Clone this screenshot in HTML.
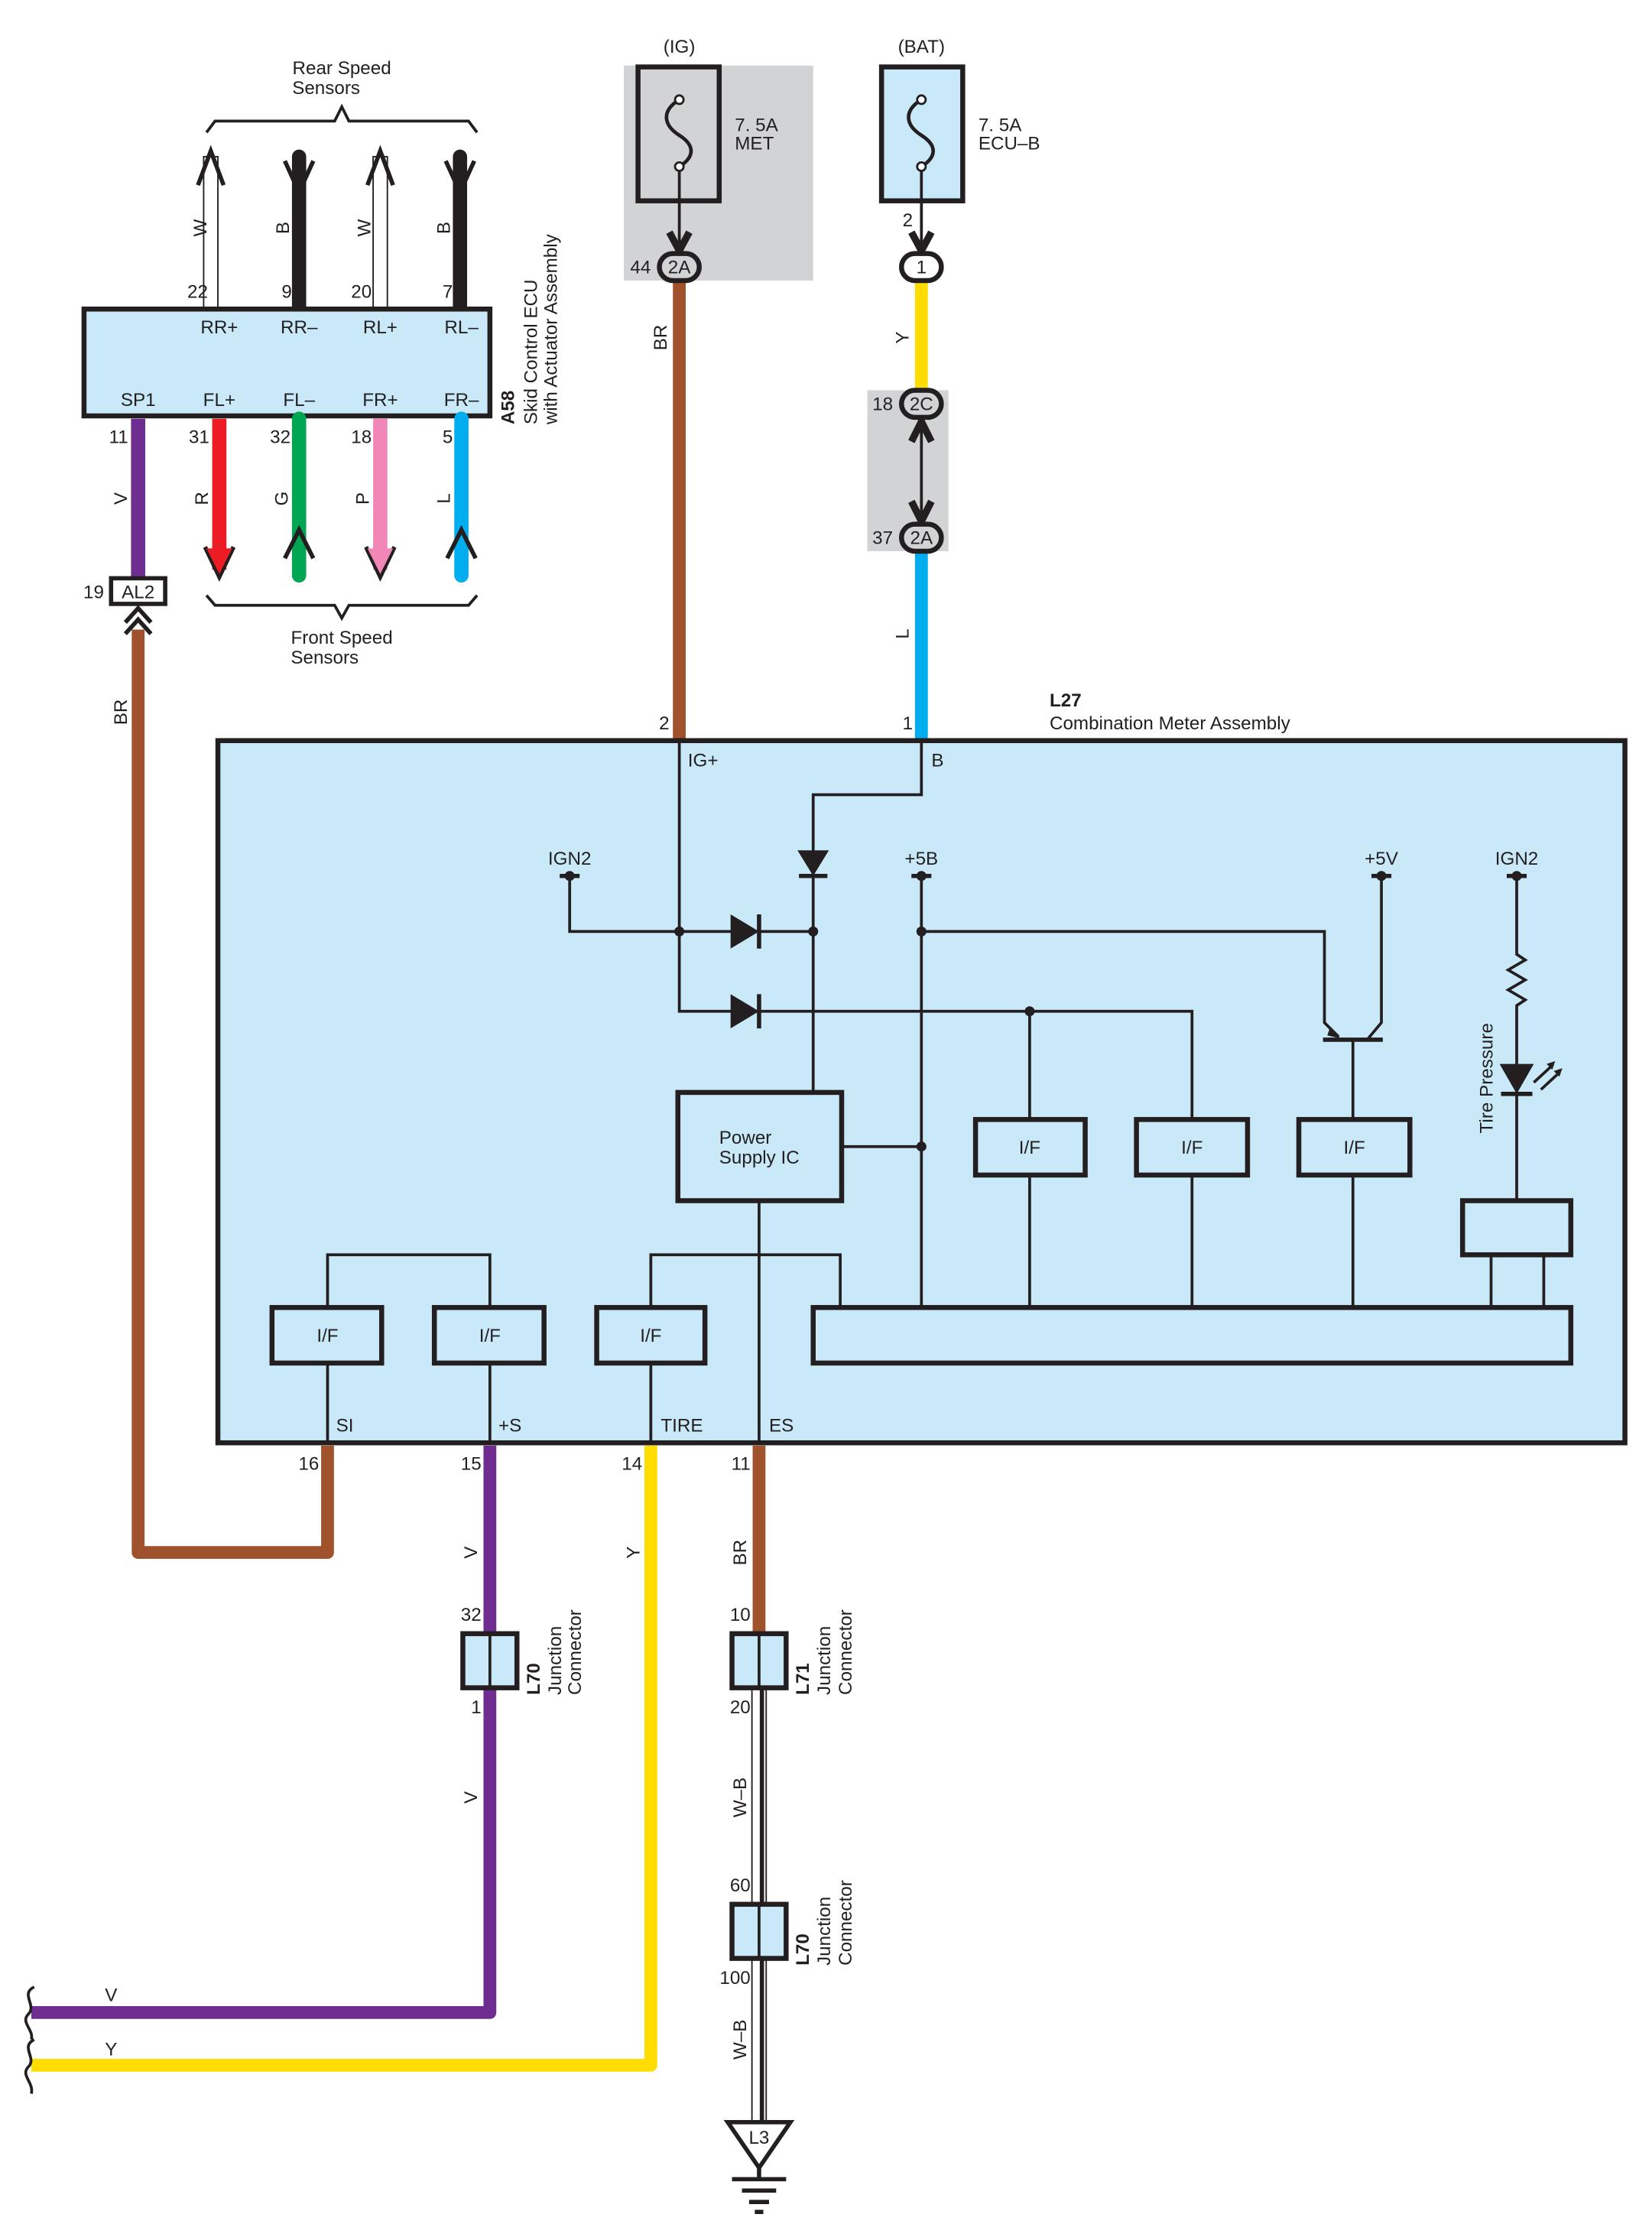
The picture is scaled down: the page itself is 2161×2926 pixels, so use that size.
<!DOCTYPE html>
<html><head><meta charset="utf-8"><style>
html,body{margin:0;padding:0;background:#fff;}
svg{display:block;}
text{font-family:"Liberation Sans",sans-serif;font-size:13px;fill:#231f20;}
.b{font-weight:bold;}
.m{text-anchor:middle;}
.e{text-anchor:end;}
</style></head><body>
<svg width="2161" height="2926" viewBox="0 0 1160 1570.6" preserveAspectRatio="none" xmlns="http://www.w3.org/2000/svg">
<rect x="0" y="0" width="1160" height="1571" fill="#fff"/>

<!-- Rear speed sensors -->
<text x="240" y="52" class="m">Rear Speed</text>
<text x="229" y="66" class="m">Sensors</text>
<path d="M145,93 L151,85 L235,85 L240,75 L245,85 L329,85 L335,93" fill="none" stroke="#231f20" stroke-width="2"/>
<g stroke="#231f20" stroke-width="1">
<rect x="143" y="110" width="10" height="107" fill="#fff"/>
<rect x="262" y="110" width="10" height="107" fill="#fff"/>
</g>
<path d="M139,130 L148,106 L157,130 M258,130 L267,106 L276,130" fill="none" stroke="#231f20" stroke-width="3"/>
<g stroke="#231f20" stroke-width="10" stroke-linecap="round"><line x1="210" y1="110" x2="210" y2="217"/><line x1="323" y1="110" x2="323" y2="217"/></g>
<path d="M200,113 L210,135 L220,113 M313,113 L323,135 L333,113" fill="none" stroke="#231f20" stroke-width="3"/>
<text x="146" y="209" class="e">22</text><text x="205" y="209" class="e">9</text><text x="261" y="209" class="e">20</text><text x="318" y="209" class="e">7</text>
<text transform="translate(145,160) rotate(-90)" class="m">W</text>
<text transform="translate(203,160) rotate(-90)" class="m">B</text>
<text transform="translate(260,160) rotate(-90)" class="m">W</text>
<text transform="translate(316,160) rotate(-90)" class="m">B</text>

<!-- ECU -->
<rect x="59" y="217" width="285" height="75" fill="#c9e9f9" stroke="#231f20" stroke-width="3.5"/>
<text x="154" y="234" class="m">RR+</text><text x="210" y="234" class="m">RR–</text><text x="267" y="234" class="m">RL+</text><text x="324" y="234" class="m">RL–</text>
<text x="97" y="285" class="m">SP1</text><text x="154" y="285" class="m">FL+</text><text x="210" y="285" class="m">FL–</text><text x="267" y="285" class="m">FR+</text><text x="324" y="285" class="m">FR–</text>
<text transform="translate(361,298) rotate(-90)" class="b">A58</text>
<text transform="translate(377,298) rotate(-90)">Skid Control ECU</text>
<text transform="translate(391,298) rotate(-90)">with Actuator Assembly</text>

<g stroke-width="10" stroke-linecap="round">
<line x1="97" y1="294" x2="97" y2="405" stroke="#6f2c91" stroke-linecap="butt"/>
<line x1="154" y1="294" x2="154" y2="400" stroke="#ed1c24" stroke-linecap="butt"/>
<line x1="210" y1="294" x2="210" y2="404" stroke="#00a651"/>
<line x1="267" y1="294" x2="267" y2="400" stroke="#f087b6" stroke-linecap="butt"/>
<line x1="324" y1="294" x2="324" y2="404" stroke="#00aeef"/>
</g>
<path d="M144,384 L154,405 L164,384 M257,384 L267,405 L277,384" fill="none" stroke="#231f20" stroke-width="3"/>
<path d="M200,392 L210,372 L220,392 M314,392 L324,372 L334,392" fill="none" stroke="#231f20" stroke-width="3"/>
<polygon points="145,385 154,403 163,385" fill="#ed1c24"/>
<polygon points="258,385 267,403 276,385" fill="#f087b6"/>
<text x="90" y="311" class="e">11</text><text x="147" y="311" class="e">31</text><text x="204" y="311" class="e">32</text><text x="261" y="311" class="e">18</text><text x="318" y="311" class="e">5</text>
<text transform="translate(89,350) rotate(-90)" class="m">V</text>
<text transform="translate(146,350) rotate(-90)" class="m">R</text>
<text transform="translate(202,350) rotate(-90)" class="m">G</text>
<text transform="translate(259,350) rotate(-90)" class="m">P</text>
<text transform="translate(316,350) rotate(-90)" class="m">L</text>
<path d="M145,418 L151,425 L235,425 L240,434 L245,425 L329,425 L335,418" fill="none" stroke="#231f20" stroke-width="2"/>
<text x="240" y="452" class="m">Front Speed</text>
<text x="228" y="466" class="m">Sensors</text>

<rect x="78" y="406" width="38" height="18" fill="#fff" stroke="#231f20" stroke-width="3"/>
<text x="97" y="420" class="m">AL2</text>
<text x="73" y="420" class="e">19</text>
<path d="M97,442 L97,1090 L230,1090 L230,1015" fill="none" stroke="#a0522d" stroke-width="9" stroke-linejoin="round"/>
<path d="M88,437 L97,427 L106,437 M88,445 L97,435 L106,445" fill="none" stroke="#231f20" stroke-width="3"/>
<text transform="translate(89,500) rotate(-90)" class="m">BR</text>

<!-- IG -->
<text x="477" y="37" class="m">(IG)</text>
<rect x="438" y="46" width="133" height="151" fill="#d1d3d4"/>
<rect x="448" y="47" width="57" height="94" fill="#d1d3d4" stroke="#231f20" stroke-width="3.5"/>
<path d="M477,70 C464,78 466,88 477,95 C488,102 488,110 477,117" fill="none" stroke="#231f20" stroke-width="2.5"/>
<circle cx="477" cy="70" r="3" fill="#fff" stroke="#231f20" stroke-width="1.5"/>
<circle cx="477" cy="117" r="3" fill="#fff" stroke="#231f20" stroke-width="1.5"/>
<line x1="477" y1="120" x2="477" y2="172" stroke="#231f20" stroke-width="2"/>
<path d="M470,163 L477,176 L484,163" fill="none" stroke="#231f20" stroke-width="5"/>
<text x="516" y="92">7. 5A</text><text x="516" y="105">MET</text>
<line x1="477" y1="196" x2="477" y2="520" stroke="#a0522d" stroke-width="9"/>
<rect x="463" y="178" width="28" height="19" rx="9.5" fill="#d1d3d4" stroke="#231f20" stroke-width="3.5"/>
<text x="477" y="192" class="m">2A</text>
<text x="457" y="192" class="e">44</text>
<text transform="translate(468,237) rotate(-90)" class="m">BR</text>

<!-- BAT -->
<text x="647" y="37" class="m">(BAT)</text>
<rect x="619" y="47" width="57" height="94" fill="#c9e9f9" stroke="#231f20" stroke-width="3.5"/>
<path d="M647,70 C634,78 636,88 647,95 C658,102 658,110 647,117" fill="none" stroke="#231f20" stroke-width="2.5"/>
<circle cx="647" cy="70" r="3" fill="#fff" stroke="#231f20" stroke-width="1.5"/>
<circle cx="647" cy="117" r="3" fill="#fff" stroke="#231f20" stroke-width="1.5"/>
<line x1="647" y1="120" x2="647" y2="172" stroke="#231f20" stroke-width="2"/>
<path d="M640,163 L647,176 L654,163" fill="none" stroke="#231f20" stroke-width="5"/>
<text x="687" y="92">7. 5A</text><text x="687" y="105">ECU–B</text>
<text x="641" y="159" class="e">2</text>
<line x1="647" y1="196" x2="647" y2="275" stroke="#ffdd00" stroke-width="9"/>
<rect x="633" y="178" width="28" height="19" rx="9.5" fill="#fff" stroke="#231f20" stroke-width="3.5"/>
<text x="647" y="192" class="m">1</text>
<text transform="translate(638,237) rotate(-90)" class="m">Y</text>
<rect x="609" y="274" width="57" height="113" fill="#d1d3d4"/>
<line x1="647" y1="292" x2="647" y2="368" stroke="#231f20" stroke-width="2"/>
<path d="M640,310 L647,296 L654,310" fill="none" stroke="#231f20" stroke-width="5"/>
<path d="M640,352 L647,366 L654,352" fill="none" stroke="#231f20" stroke-width="5"/>
<rect x="633" y="274" width="28" height="19" rx="9.5" fill="#d1d3d4" stroke="#231f20" stroke-width="3.5"/>
<text x="647" y="288" class="m">2C</text><text x="627" y="288" class="e">18</text>
<line x1="647" y1="386" x2="647" y2="520" stroke="#00aeef" stroke-width="9"/>
<rect x="633" y="368" width="28" height="19" rx="9.5" fill="#d1d3d4" stroke="#231f20" stroke-width="3.5"/>
<text x="647" y="382" class="m">2A</text><text x="627" y="382" class="e">37</text>
<text transform="translate(638,445) rotate(-90)" class="m">L</text>
<text x="470" y="512" class="e">2</text><text x="641" y="512" class="e">1</text>
<text x="737" y="496" class="b">L27</text>
<text x="737" y="512">Combination Meter Assembly</text>

<!-- Main box -->
<rect x="153" y="520" width="988" height="493" fill="#c9e9f9" stroke="#231f20" stroke-width="3.5"/>
<text x="483" y="538">IG+</text><text x="654" y="538">B</text>
<g fill="none" stroke="#231f20" stroke-width="2">
<path d="M477,521 L477,710 L837,710 L837,786"/>
<path d="M647,521 L647,558 L571,558 L571,767"/>
<path d="M400,615 L400,654 L571,654"/>
<path d="M647,615 L647,918"/>
<path d="M647,654 L930,654 L930,718 L940,728"/>
<path d="M970,615 L970,718 L960,730"/>
<path d="M950,730 L950,786"/>
<line x1="723" y1="710" x2="723" y2="786"/>
<path d="M1065,615 L1065,670 L1071,674 L1059,681 L1071,688 L1059,695 L1071,702 L1065,706 L1065,843"/>
<path d="M591,805 L647,805"/>
<path d="M533,843 L533,1013"/>
<line x1="723" y1="825" x2="723" y2="918"/><line x1="837" y1="825" x2="837" y2="918"/><line x1="950" y1="825" x2="950" y2="918"/>
<line x1="1047" y1="881" x2="1047" y2="918"/><line x1="1084" y1="881" x2="1084" y2="918"/>
<path d="M230,918 L230,881 L344,881 L344,918"/>
<path d="M457,918 L457,881 L590,881 L590,918"/>
<line x1="230" y1="957" x2="230" y2="1013"/><line x1="344" y1="957" x2="344" y2="1013"/><line x1="457" y1="957" x2="457" y2="1013"/>
</g>
<g stroke="#231f20" stroke-width="3">
<line x1="393" y1="615" x2="407" y2="615"/><line x1="640" y1="615" x2="654" y2="615"/><line x1="963" y1="615" x2="977" y2="615"/><line x1="1058" y1="615" x2="1072" y2="615"/>
<line x1="561" y1="615" x2="581" y2="615"/>
<line x1="533" y1="642" x2="533" y2="666"/><line x1="533" y1="698" x2="533" y2="722"/>
<line x1="929" y1="730" x2="971" y2="730"/>
<line x1="1054" y1="768" x2="1076" y2="768"/>
</g>
<polygon points="560,597 582,597 571,615" fill="#231f20"/>
<polygon points="513,642 513,666 533,654" fill="#231f20"/>
<polygon points="513,698 513,722 533,710" fill="#231f20"/>
<polygon points="1053,747 1077,747 1065,768" fill="#231f20"/>
<polygon points="934,721 941,729 932,727" fill="#231f20"/>
<path d="M1077,760 L1090,748 M1082,765 L1095,753" stroke="#231f20" stroke-width="2"/>
<polygon points="1092,745 1086,747 1090,751" fill="#231f20"/><polygon points="1097,750 1091,752 1095,756" fill="#231f20"/>
<g fill="#231f20"><circle cx="400" cy="615" r="3.5"/><circle cx="647" cy="615" r="3.5"/><circle cx="970" cy="615" r="3.5"/><circle cx="1065" cy="615" r="3.5"/>
<circle cx="477" cy="654" r="3.5"/><circle cx="571" cy="654" r="3.5"/><circle cx="647" cy="654" r="3.5"/><circle cx="723" cy="710" r="3.5"/><circle cx="647" cy="805" r="3.5"/></g>
<text x="400" y="607" class="m">IGN2</text><text x="647" y="607" class="m">+5B</text><text x="970" y="607" class="m">+5V</text><text x="1065" y="607" class="m">IGN2</text>
<text transform="translate(1048,757) rotate(-90)" class="m">Tire Pressure</text>
<g fill="none" stroke="#231f20" stroke-width="3.5">
<rect x="476" y="767" width="115" height="76"/>
<rect x="685" y="786" width="77" height="39"/><rect x="798" y="786" width="78" height="39"/><rect x="912" y="786" width="78" height="39"/>
<rect x="1027" y="843" width="76" height="38"/>
<rect x="571" y="918" width="532" height="39"/>
<rect x="191" y="918" width="77" height="39"/><rect x="305" y="918" width="77" height="39"/><rect x="419" y="918" width="76" height="39"/>
</g>
<text x="505" y="803">Power</text><text x="505" y="817">Supply IC</text>
<text x="723" y="810" class="m">I/F</text><text x="837" y="810" class="m">I/F</text><text x="951" y="810" class="m">I/F</text>
<text x="230" y="942" class="m">I/F</text><text x="344" y="942" class="m">I/F</text><text x="457" y="942" class="m">I/F</text>
<text x="236" y="1005">SI</text><text x="350" y="1005">+S</text><text x="464" y="1005">TIRE</text><text x="540" y="1005">ES</text>

<text x="224" y="1032" class="e">16</text><text x="338" y="1032" class="e">15</text><text x="451" y="1032" class="e">14</text><text x="527" y="1032" class="e">11</text>
<path d="M344,1015 L344,1413 L22,1413" fill="none" stroke="#6f2c91" stroke-width="9" stroke-linejoin="round"/>
<path d="M457,1015 L457,1450 L22,1450" fill="none" stroke="#ffdd00" stroke-width="9" stroke-linejoin="round"/>
<line x1="533" y1="1015" x2="533" y2="1148" stroke="#a0522d" stroke-width="9"/>
<text transform="translate(335,1090) rotate(-90)" class="m">V</text>
<text transform="translate(335,1262) rotate(-90)" class="m">V</text>
<text transform="translate(449,1090) rotate(-90)" class="m">Y</text>
<text transform="translate(524,1090) rotate(-90)" class="m">BR</text>
<rect x="325" y="1147" width="38" height="38" fill="#c9e9f9" stroke="#231f20" stroke-width="3.5"/>
<line x1="344" y1="1147" x2="344" y2="1185" stroke="#231f20" stroke-width="2"/>
<text x="338" y="1138" class="e">32</text><text x="338" y="1203" class="e">1</text>
<text transform="translate(379,1190) rotate(-90)" class="b">L70</text>
<text transform="translate(394,1190) rotate(-90)">Junction</text>
<text transform="translate(408,1190) rotate(-90)">Connector</text>
<rect x="528" y="1185" width="10" height="305" fill="#fff" stroke="#231f20" stroke-width="1"/>
<line x1="535" y1="1185" x2="535" y2="1490" stroke="#231f20" stroke-width="3"/>
<rect x="514" y="1147" width="38" height="38" fill="#c9e9f9" stroke="#231f20" stroke-width="3.5"/>
<line x1="533" y1="1147" x2="533" y2="1185" stroke="#231f20" stroke-width="2"/>
<text x="527" y="1138" class="e">10</text><text x="527" y="1203" class="e">20</text>
<text transform="translate(568,1190) rotate(-90)" class="b">L71</text>
<text transform="translate(583,1190) rotate(-90)">Junction</text>
<text transform="translate(598,1190) rotate(-90)">Connector</text>
<text transform="translate(524,1262) rotate(-90)" class="m">W–B</text>
<rect x="514" y="1337" width="38" height="38" fill="#c9e9f9" stroke="#231f20" stroke-width="3.5"/>
<line x1="533" y1="1337" x2="533" y2="1375" stroke="#231f20" stroke-width="2"/>
<text x="527" y="1328" class="e">60</text><text x="527" y="1393" class="e">100</text>
<text transform="translate(568,1380) rotate(-90)" class="b">L70</text>
<text transform="translate(583,1380) rotate(-90)">Junction</text>
<text transform="translate(598,1380) rotate(-90)">Connector</text>
<text transform="translate(524,1432) rotate(-90)" class="m">W–B</text>
<polygon points="511,1490 555,1490 533,1522" fill="#fff" stroke="#231f20" stroke-width="3"/>
<text x="533" y="1505" class="m">L3</text>
<g stroke="#231f20" stroke-width="3"><line x1="533" y1="1522" x2="533" y2="1530"/><line x1="514" y1="1530" x2="552" y2="1530"/><line x1="521" y1="1538" x2="545" y2="1538"/><line x1="526" y1="1546" x2="540" y2="1546"/><line x1="530" y1="1553" x2="536" y2="1553"/></g>
<path d="M24,1395 C14,1400 26,1408 20,1414 C14,1420 24,1425 22,1432 M24,1432 C14,1437 26,1445 20,1451 C14,1457 24,1462 22,1470" fill="none" stroke="#231f20" stroke-width="2"/>
<text x="78" y="1405" class="m">V</text><text x="78" y="1443" class="m">Y</text>
</svg>
</body></html>
